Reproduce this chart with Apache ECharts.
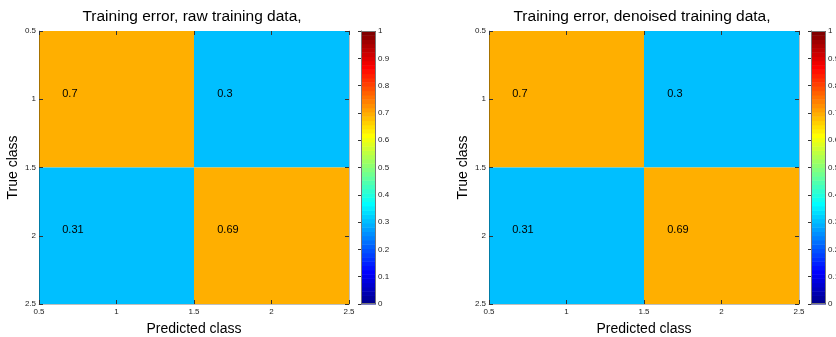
<!DOCTYPE html>
<html>
<head>
<meta charset="utf-8">
<script src="https://cdn.jsdelivr.net/npm/echarts@6/dist/echarts.min.js"></script>
<style>
  html, body { margin: 0; padding: 0; background: #fff; }
  #chart { width: 836px; height: 337px; }
</style>
</head>
<body>
<div id="chart"></div>
<script>
// Confusion matrices (rows = true class, columns = predicted class)
const predictedClasses = [1, 2];
const trueClasses = [1, 2];
const rawMatrix = [
  [0.7, 0.3],
  [0.31, 0.69]
];
const denoisedMatrix = [
  [0.7, 0.3],
  [0.31, 0.69]
];
const titles = [
  'Training error, raw training data,',
  'Training error, denoised training data,'
];
const axisTicks = [0.5, 1, 1.5, 2, 2.5];
const colorbarTicks = [0, 0.1, 0.2, 0.3, 0.4, 0.5, 0.6, 0.7, 0.8, 0.9, 1];
const colorLimits = [0, 1];

// 64-level "jet" colormap
const JET_LEVELS = 64;
const jet = (function () {
  const n = Math.ceil(JET_LEVELS / 4);
  const u = [];
  for (let i = 1; i <= n; i++) u.push(i / n);
  for (let i = 1; i < n; i++) u.push(1);
  for (let i = n; i >= 1; i--) u.push(i / n);
  const off = Math.ceil(n / 2) - (JET_LEVELS % 4 === 1 ? 1 : 0);
  const map = [];
  for (let i = 0; i < JET_LEVELS; i++) map.push([0, 0, 0]);
  for (let k = 1; k <= u.length; k++) {
    const g = off + k, r = g + n, b = g - n;
    if (r >= 1 && r <= JET_LEVELS) map[r - 1][0] = u[k - 1];
    if (g >= 1 && g <= JET_LEVELS) map[g - 1][1] = u[k - 1];
    if (b >= 1 && b <= JET_LEVELS) map[b - 1][2] = u[k - 1];
  }
  return map.map(function (c) {
    return 'rgb(' + c.map(function (x) { return Math.round(x * 255); }).join(',') + ')';
  });
})();

function colorOf(v) {
  const t = (v - colorLimits[0]) / (colorLimits[1] - colorLimits[0]);
  const idx = Math.max(0, Math.min(JET_LEVELS - 1, Math.floor(t * JET_LEVELS)));
  return jet[idx];
}

const FONT = "'Liberation Sans', Arial, Helvetica, sans-serif";
const TICK_COLOR = '#333';
const LABEL_STYLE = { fontFamily: FONT, fontSize: 8, color: '#222' };

const plots = [
  { matrix: rawMatrix, left: 39, cbLeft: 361 },
  { matrix: denoisedMatrix, left: 489, cbLeft: 811 }
];
const TOP = 31, WIDTH = 310, HEIGHT = 273, CB_WIDTH = 15;

const option = {
  animation: false,
  backgroundColor: '#fff',
  title: [], grid: [], xAxis: [], yAxis: [], series: []
};

plots.forEach(function (p, i) {
  const gMain = i * 2, gCb = i * 2 + 1;

  option.title.push({
    text: titles[i],
    left: p.left + WIDTH / 2 - 7,
    top: 4,
    textAlign: 'center',
    textStyle: { fontFamily: FONT, fontSize: 15.5, fontWeight: 'normal', color: '#000' }
  });

  option.grid.push({ left: p.left, top: TOP, width: WIDTH, height: HEIGHT, outerBoundsMode: 'none', containLabel: false });
  option.grid.push({ left: p.cbLeft, top: TOP, width: CB_WIDTH, height: HEIGHT, outerBoundsMode: 'none', containLabel: false });

  const mainAxisBase = {
    type: 'value', min: axisTicks[0], max: axisTicks[axisTicks.length - 1],
    interval: 0.5, gridIndex: gMain, z: 10,
    splitLine: { show: false },
    axisTick: { show: true, inside: true, length: 4, lineStyle: { color: TICK_COLOR } }
  };

  // bottom / top x axes
  option.xAxis.push(Object.assign({}, mainAxisBase, {
    position: 'bottom',
    name: 'Predicted class', nameLocation: 'middle', nameGap: 18,
    nameTextStyle: { fontFamily: FONT, fontSize: 14, color: '#000' },
    axisLine: { show: true, lineStyle: { color: 'rgba(0,0,0,0.25)' } },
    axisLabel: Object.assign({ margin: 4 }, LABEL_STYLE)
  }));
  option.xAxis.push(Object.assign({}, mainAxisBase, {
    position: 'top',
    axisLine: { show: false },
    axisLabel: { show: false }
  }));
  // left / right y axes
  option.yAxis.push(Object.assign({}, mainAxisBase, {
    position: 'left', inverse: true,
    name: 'True class', nameLocation: 'middle', nameGap: 19,
    nameTextStyle: { fontFamily: FONT, fontSize: 14, color: '#000' },
    axisLine: { show: true, lineStyle: { color: 'rgba(0,0,0,0.35)' } },
    axisLabel: Object.assign({ margin: 3 }, LABEL_STYLE)
  }));
  option.yAxis.push(Object.assign({}, mainAxisBase, {
    position: 'right', inverse: true,
    axisLine: { show: true, lineStyle: { color: 'rgba(0,0,0,0.25)' } },
    axisLabel: { show: false }
  }));

  const xMain = i * 3, yMain = i * 3;

  // colorbar axes
  option.xAxis.push({
    type: 'value', min: 0, max: 1, gridIndex: gCb, z: 10,
    axisLine: { show: false }, axisTick: { show: false },
    axisLabel: { show: false }, splitLine: { show: false }
  });
  option.yAxis.push({
    type: 'value', min: colorLimits[0], max: colorLimits[1], interval: 0.1,
    gridIndex: gCb, position: 'right', z: 10,
    splitLine: { show: false },
    axisLine: { show: true, lineStyle: { color: '#666' } },
    axisTick: { show: true, inside: true, length: 3, lineStyle: { color: TICK_COLOR } },
    axisLabel: Object.assign({ margin: 2 }, LABEL_STYLE)
  });

  // matrix cells
  const cells = [];
  trueClasses.forEach(function (tc, r) {
    predictedClasses.forEach(function (pc, c) {
      cells.push([pc, tc, p.matrix[r][c]]);
    });
  });
  option.series.push({
    type: 'custom',
    xAxisIndex: xMain, yAxisIndex: yMain,
    data: cells,
    encode: { x: 0, y: 1 },
    renderItem: function (params, api) {
      const x = api.value(0), y = api.value(1), v = api.value(2);
      const p0 = api.coord([x - 0.5, y - 0.5]);
      const p1 = api.coord([x + 0.5, y + 0.5]);
      const tp = api.coord([x - 0.35, y - 0.04]);
      return {
        type: 'group',
        children: [
          {
            type: 'rect',
            shape: {
              x: Math.min(p0[0], p1[0]), y: Math.min(p0[1], p1[1]),
              width: Math.abs(p1[0] - p0[0]), height: Math.abs(p1[1] - p0[1])
            },
            style: { fill: colorOf(v) }
          },
          {
            type: 'text',
            x: tp[0], y: tp[1],
            style: {
              text: String(v), fill: '#000',
              font: '11px ' + FONT,
              align: 'left', verticalAlign: 'middle'
            }
          }
        ]
      };
    }
  });

  // colorbar levels
  const levels = jet.map(function (_, k) { return k; });
  option.series.push({
    type: 'custom',
    xAxisIndex: i * 3 + 2, yAxisIndex: i * 3 + 2,
    data: levels,
    renderItem: function (params, api) {
      const k = api.value(0);
      const span = colorLimits[1] - colorLimits[0];
      const lo = colorLimits[0] + span * k / JET_LEVELS;
      const hi = colorLimits[0] + span * (k + 1) / JET_LEVELS;
      const a = api.coord([0, lo]), b = api.coord([1, hi]);
      return {
        type: 'rect',
        shape: { x: a[0], y: b[1], width: b[0] - a[0], height: a[1] - b[1] + 0.5 },
        style: { fill: jet[k] }
      };
    }
  });
});

// colorbar frames
option.graphic = plots.map(function (p) {
  return {
    type: 'rect', z: 20, silent: true,
    shape: { x: p.cbLeft + 0.5, y: TOP + 0.5, width: CB_WIDTH - 1, height: HEIGHT - 1 },
    style: { fill: 'none', stroke: '#777', lineWidth: 1 }
  };
});

const chart = echarts.init(document.getElementById('chart'), null, { renderer: 'canvas' });
chart.setOption(option);
</script>
</body>
</html>
